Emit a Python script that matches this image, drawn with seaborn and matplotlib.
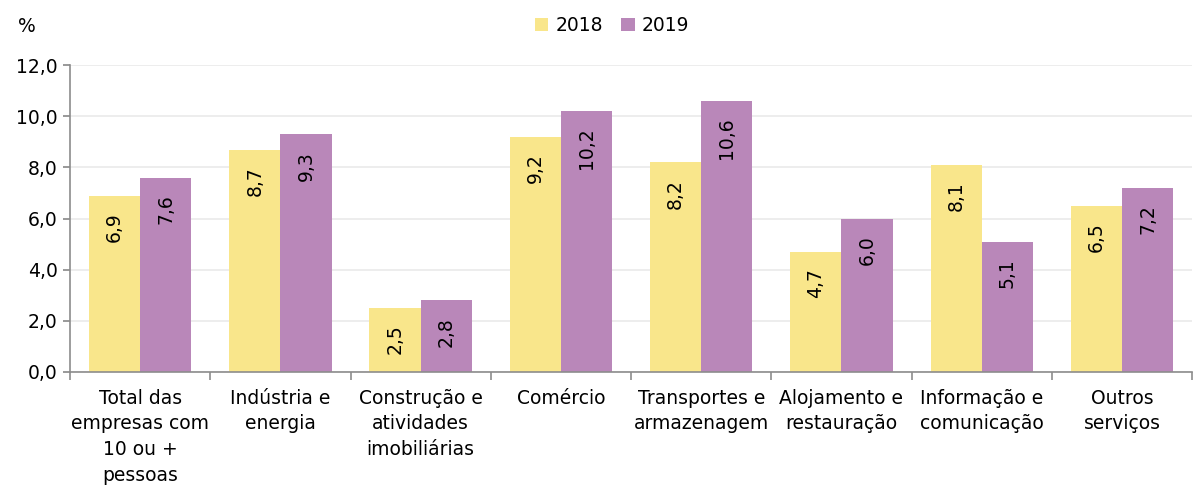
import pandas as pd
import numpy as np
import matplotlib.pyplot as plt
from matplotlib.ticker import FuncFormatter, MultipleLocator
import seaborn as sns

# data
categories = ['Total das\nempresas com\n10 ou +\npessoas', 'Indústria e\nenergia',
              'Construção e\natividades\nimobiliárias', 'Comércio',
              'Transportes e\narmazenagem', 'Alojamento e\nrestauração',
              'Informação e\ncomunicação', 'Outros\nserviços']
years = ['2018', '2019']
vals_2018 = [6.9, 8.7, 2.5, 9.2, 8.2, 4.7, 8.1, 6.5]
vals_2019 = [7.6, 9.3, 2.8, 10.2, 10.6, 6.0, 5.1, 7.2]

df = pd.DataFrame({
    'cat': categories * 2,
    'year': [years[0]] * len(categories) + [years[1]] * len(categories),
    'val': vals_2018 + vals_2019,
})

sns.set_theme(style='white')
plt.rcParams['font.family'] = ['DejaVu Sans']
plt.rcParams['text.color'] = 'black'
plt.rcParams['xtick.color'] = 'black'
plt.rcParams['ytick.color'] = 'black'

FS = 13.5

fig = plt.figure(figsize=(11.95, 4.9), dpi=100)
ax = fig.add_axes([0.0586, 0.241, 0.939, 0.626])

pal = {'2018': '#F9E68B', '2019': '#B987B9'}
sns.barplot(data=df, x='cat', y='val', hue='year', palette=pal, width=0.73,
            saturation=1, ax=ax, legend=True, linewidth=0)

# value labels inside bars
for cont, vals in zip(ax.containers, [vals_2018, vals_2019]):
    for p, v in zip(cont.patches, vals):
        ax.text(p.get_x() + p.get_width() / 2, p.get_height() - 0.65,
                f'{v:.1f}'.replace('.', ','), rotation=90, ha='center', va='top',
                fontsize=FS, color='black')

ax.set_ylim(0, 12)
ax.set_xlim(-0.5, len(categories) - 0.5)
ax.yaxis.set_major_locator(MultipleLocator(2))
ax.yaxis.set_major_formatter(FuncFormatter(lambda y, _: f'{y:.1f}'.replace('.', ',')))
ax.grid(axis='y', color='#EAEAEA', linewidth=1.2)
ax.set_axisbelow(True)

for s in ['top', 'right']:
    ax.spines[s].set_visible(False)
for s in ['left', 'bottom']:
    ax.spines[s].set_color('#8C8C8C')
    ax.spines[s].set_linewidth(1.2)

ax.tick_params(axis='y', which='major', left=True, length=5, color='#8C8C8C',
               labelsize=FS, pad=4)
ax.set_xticks(range(len(categories)))
ax.set_xticklabels(categories, fontsize=FS, linespacing=1.45, va='top')
ax.tick_params(axis='x', which='major', length=0, pad=12)
ax.set_xticks(np.arange(-0.5, len(categories)), minor=True)
ax.tick_params(axis='x', which='minor', bottom=True, length=6, color='#8C8C8C', width=1.2)
ax.set_xlabel('')
ax.set_ylabel('')

ax.legend(loc='center', bbox_to_anchor=(0.483, 1.13), ncol=2,
          frameon=False, fontsize=FS, handlelength=0.7, handleheight=0.7,
          handletextpad=0.4, columnspacing=1.0)

fig.text(0.015, 0.945, '%', fontsize=FS, ha='left', va='center')

fig.savefig('out.png', dpi=100)
